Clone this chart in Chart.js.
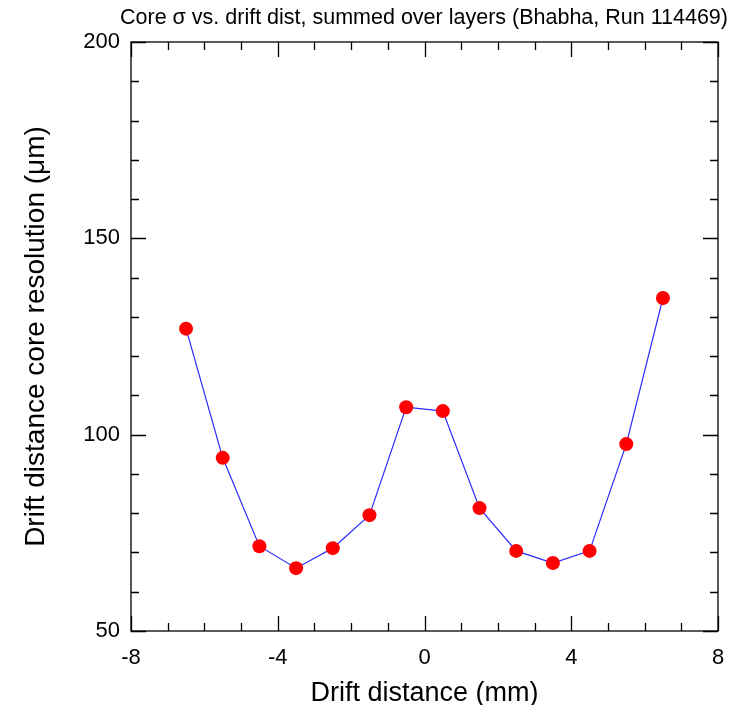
<!DOCTYPE html>
<html>
<head>
<meta charset="utf-8">
<script src="https://cdn.jsdelivr.net/npm/chart.js@4/dist/chart.umd.min.js"></script>
<style>
  html, body { margin: 0; padding: 0; background: #fff; }
  #wrap { width: 738px; height: 705px; position: relative; }
</style>
</head>
<body>
<div id="wrap"><canvas id="c" width="738" height="705"></canvas></div>
<script>
// drift distance bin centres (mm) and core resolution (um)
const driftDist = [-6.5, -5.5, -4.5, -3.5, -2.5, -1.5, -0.5, 0.5, 1.5, 2.5, 3.5, 4.5, 5.5, 6.5];
const coreSigma = [127.0, 94.1, 71.6, 66.0, 71.1, 79.5, 107.0, 106.0, 81.3, 70.4, 67.3, 70.4, 97.6, 134.8];
const sigmaErr  = [1.6, 1.2, 1.0, 1.0, 1.0, 1.1, 1.5, 1.5, 1.1, 1.0, 1.0, 1.0, 1.3, 1.8];

const xMajorTicks = [-8, -4, 0, 4, 8];
const xMinorTicks = [-7, -6, -5, -3, -2, -1, 1, 2, 3, 5, 6, 7];
const yMajorTicks = [50, 100, 150, 200];
const yMinorTicks = [60, 70, 80, 90, 110, 120, 130, 140, 160, 170, 180, 190];

const titleText = 'Core \u03c3 vs. drift dist, summed over layers (Bhabha, Run 114469)';
const FONT = '"Liberation Sans", Arial, Helvetica, sans-serif';

// frame, inward ticks, error bars and the title
const framePlugin = {
  id: 'frame',
  beforeDatasetsDraw(chart) {
    const { ctx, chartArea: a, scales: { x, y } } = chart;
    ctx.save();
    ctx.strokeStyle = '#000';
    ctx.lineWidth = 1.3;
    ctx.strokeRect(a.left, a.top, a.right - a.left, a.bottom - a.top);
    ctx.beginPath();
    const tick = (vals, len) => {
      vals.forEach(v => {
        const px = Math.round(x.getPixelForValue(v)) + 0.5;
        ctx.moveTo(px, a.bottom); ctx.lineTo(px, a.bottom - len);
        ctx.moveTo(px, a.top); ctx.lineTo(px, a.top + len);
      });
    };
    const ytick = (vals, len) => {
      vals.forEach(v => {
        const py = Math.round(y.getPixelForValue(v)) + 0.5;
        ctx.moveTo(a.left, py); ctx.lineTo(a.left + len, py);
        ctx.moveTo(a.right, py); ctx.lineTo(a.right - len, py);
      });
    };
    tick(xMajorTicks, 15);
    tick(xMinorTicks, 8);
    ytick(yMajorTicks, 15);
    ytick(yMinorTicks, 8);
    ctx.stroke();
    ctx.restore();
  },
  afterDatasetsDraw(chart) {
    const { ctx, scales: { x, y } } = chart;
    ctx.save();
    ctx.strokeStyle = '#ff0000';
    ctx.lineWidth = 1.5;
    ctx.beginPath();
    driftDist.forEach((d, i) => {
      const px = x.getPixelForValue(d);
      ctx.moveTo(px, y.getPixelForValue(coreSigma[i] - sigmaErr[i]));
      ctx.lineTo(px, y.getPixelForValue(coreSigma[i] + sigmaErr[i]));
    });
    ctx.stroke();
    ctx.fillStyle = '#000';
    ctx.font = '21.5px ' + FONT;
    ctx.textAlign = 'center';
    ctx.textBaseline = 'middle';
    ctx.fillText(titleText, 424, 18);
    ctx.restore();
  }
};

new Chart(document.getElementById('c'), {
  type: 'line',
  data: {
    datasets: [{
      data: driftDist.map((d, i) => ({ x: d, y: coreSigma[i] })),
      borderColor: '#2a2aff',
      borderWidth: 1.2,
      pointBackgroundColor: '#ff0000',
      pointBorderColor: '#ff0000',
      pointBorderWidth: 0,
      pointRadius: 7,
      tension: 0
    }]
  },
  options: {
    responsive: false,
    animation: false,
    devicePixelRatio: 1,
    layout: { padding: { top: 42, right: 20, left: 0, bottom: 0 } },
    plugins: { legend: { display: false }, tooltip: { enabled: false } },
    scales: {
      x: {
        type: 'linear', min: -8, max: 8,
        afterBuildTicks: s => { s.ticks = xMajorTicks.map(v => ({ value: v })); },
        afterFit: s => { s.height = 74; },
        grid: { display: false },
        border: { display: false },
        ticks: { color: '#000', padding: 6, maxRotation: 0, font: { family: FONT, size: 22 } },
        title: { display: true, text: 'Drift distance (mm)', color: '#000', padding: { top: 0, bottom: -5 },
                 font: { family: FONT, size: 27 } }
      },
      y: {
        type: 'linear', min: 50, max: 200,
        afterBuildTicks: s => { s.ticks = yMajorTicks.map(v => ({ value: v })); },
        afterFit: s => { s.width = 131; },
        grid: { display: false },
        border: { display: false },
        ticks: { color: '#000', padding: 3, font: { family: FONT, size: 22 } },
        title: { display: true, text: 'Drift distance core resolution (\u03bcm)', color: '#000',
                 padding: { bottom: 0, top: 19 }, font: { family: FONT, size: 28 } }
      }
    }
  },
  plugins: [framePlugin]
});
</script>
</body>
</html>
